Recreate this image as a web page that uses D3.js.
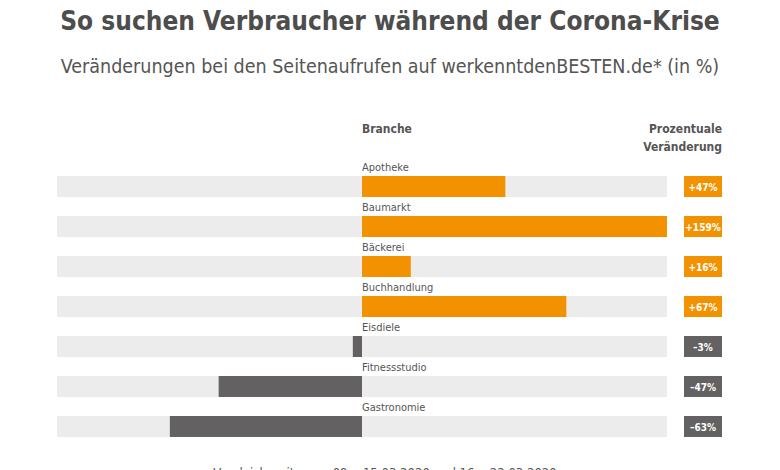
<!DOCTYPE html>
<html>
<head>
<meta charset="utf-8">
<script src="https://cdn.jsdelivr.net/npm/d3@7"></script>
<style>
  body { margin: 0; background: #fff; }
  svg { display: block; font-family: "DejaVu Sans Condensed", "Liberation Sans Narrow", sans-serif; }
</style>
</head>
<body>
<div id="chart"></div>
<script>
// Data
const branchen = ["Apotheke", "Baumarkt", "Bäckerei", "Buchhandlung", "Eisdiele", "Fitnessstudio", "Gastronomie"];
const veraenderung = [47, 159, 16, 67, -3, -47, -63];
const labels = ["+47%", "+159%", "+16%", "+67%", "–3%", "–47%", "–63%"];

const width = 780, height = 470;
const textColor = "#555555";
const orange = "#f39200";
const darkGray = "#636162";
const track = "#ececec";

const svg = d3.select("#chart")
    .append("svg")
    .attr("width", width)
    .attr("height", height);

// Titles
svg.append("text")
    .attr("x", 390).attr("y", 30)
    .attr("text-anchor", "middle")
    .attr("font-size", 26).attr("font-weight", "bold")
    .attr("fill", "#4d4d4d")
    .text("So suchen Verbraucher während der Corona-Krise");

svg.append("text")
    .attr("x", 390).attr("y", 73)
    .attr("text-anchor", "middle")
    .attr("font-size", 19.5)
    .attr("fill", textColor)
    .text("Veränderungen bei den Seitenaufrufen auf werkenntdenBESTEN.de* (in %)");

// Scales: both sides run to ±100 %, larger values are clamped to the track
const x = d3.scaleLinear()
    .domain([-100, 100])
    .range([57, 667])
    .clamp(true);

const y = d3.scaleBand()
    .domain(branchen)
    .range([176, 437])
    .paddingInner(0.475)
    .paddingOuter(0);

const rows = branchen.map((b, i) => ({ name: b, value: veraenderung[i], label: labels[i] }));

// Column headers
svg.append("text")
    .attr("x", x(0)).attr("y", 133)
    .attr("font-size", 12).attr("font-weight", "bold")
    .attr("fill", textColor)
    .text("Branche");

svg.append("text")
    .attr("x", 722).attr("y", 133)
    .attr("text-anchor", "end")
    .attr("font-size", 12).attr("font-weight", "bold")
    .attr("fill", textColor)
    .text("Prozentuale");

svg.append("text")
    .attr("x", 722).attr("y", 151)
    .attr("text-anchor", "end")
    .attr("font-size", 12).attr("font-weight", "bold")
    .attr("fill", textColor)
    .text("Veränderung");

const row = svg.selectAll(".row")
    .data(rows)
    .enter()
    .append("g")
    .attr("class", "row");

// Background tracks
row.append("rect")
    .attr("x", x(-100))
    .attr("y", d => y(d.name))
    .attr("width", x(100) - x(-100))
    .attr("height", y.bandwidth())
    .attr("fill", track);

// Value bars
row.append("rect")
    .attr("x", d => x(Math.min(0, d.value)))
    .attr("y", d => y(d.name))
    .attr("width", d => Math.abs(x(d.value) - x(0)))
    .attr("height", y.bandwidth())
    .attr("fill", d => d.value >= 0 ? orange : darkGray);

// Category labels
row.append("text")
    .attr("x", x(0))
    .attr("y", d => y(d.name) - 5)
    .attr("font-size", 11)
    .attr("fill", textColor)
    .text(d => d.name);

// Value badges
row.append("rect")
    .attr("x", 684)
    .attr("y", d => y(d.name))
    .attr("width", 38)
    .attr("height", y.bandwidth())
    .attr("fill", d => d.value >= 0 ? orange : darkGray);

row.append("text")
    .attr("x", 703)
    .attr("y", d => y(d.name) + y.bandwidth() / 2 + 4)
    .attr("text-anchor", "middle")
    .attr("font-size", 10).attr("font-weight", "bold")
    .attr("fill", "#fff")
    .text(d => d.label);

// Footer (cut off at the bottom edge, as in the source image)
svg.append("text")
    .attr("x", 385).attr("y", 477)
    .attr("text-anchor", "middle")
    .attr("font-size", 13)
    .attr("fill", textColor)
    .text("Vergleichszeitraum: 09. - 15.03.2020 und 16. - 22.03.2020");
</script>
</body>
</html>
